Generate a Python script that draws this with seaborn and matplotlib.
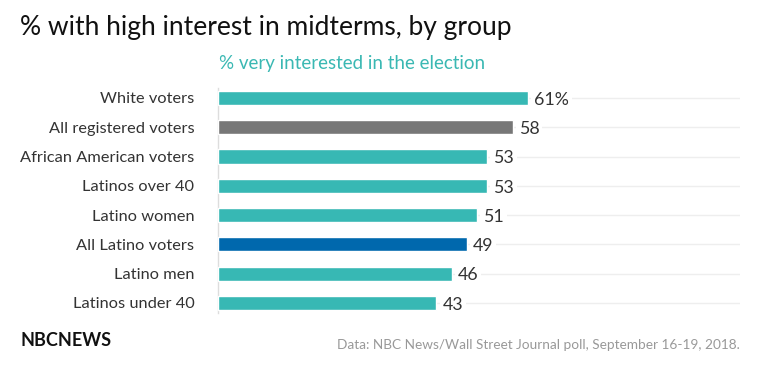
import pandas as pd
import seaborn as sns
import matplotlib.pyplot as plt

# Data
groups = ["White voters", "All registered voters", "African American voters",
          "Latinos over 40", "Latino women", "All Latino voters",
          "Latino men", "Latinos under 40"]
values = [61, 58, 53, 53, 51, 49, 46, 43]
value_labels = ["61%", "58", "53", "53", "51", "49", "46", "43"]
bar_colors = ["#37b8b4", "#777777", "#37b8b4", "#37b8b4",
              "#37b8b4", "#0068ad", "#37b8b4", "#37b8b4"]

df = pd.DataFrame({"group": groups, "value": values})

sns.set_style("white")
plt.rcParams["font.family"] = ["Lato", "DejaVu Sans"]

fig = plt.figure(figsize=(7.6, 3.71), dpi=100)
ax = fig.add_axes([0.2868, 0.144, 0.9737 - 0.2868, 0.7755 - 0.144])

sns.barplot(data=df, y="group", x="value", hue="group",
            palette=dict(zip(groups, bar_colors)), width=0.48,
            saturation=1, legend=False, ax=ax, zorder=3)

ax.set_xlim(0, 102.8)
ax.set_ylim(7.5, -0.5)
ax.set_xlabel("")
ax.set_ylabel("")
ax.set_xticks([])

# light horizontal guides at each row
ax.grid(axis="y", color="#eeeeee", linewidth=1, zorder=0)
ax.set_axisbelow(True)
ax.tick_params(axis="y", length=14, width=1, color="#eeeeee",
               labelsize=11.8, labelcolor="#333333", pad=3)

for s in ["top", "right", "bottom"]:
    ax.spines[s].set_visible(False)
ax.spines["left"].set_color("#dddddd")
ax.spines["left"].set_linewidth(1)
ax.spines["left"].set_bounds(-0.35, 7.35)

for i, (v, lab) in enumerate(zip(values, value_labels)):
    ax.text(v + 1.2, i + 0.06, lab, va="center", ha="left", fontsize=12.8,
            color="#333333", zorder=4,
            bbox=dict(facecolor="white", edgecolor="none", pad=2))

fig.text(20 / 760, 1 - 28 / 371, "% with high interest in midterms, by group",
         fontsize=19, color="#111111", va="center", ha="left")
fig.text(219 / 760, 1 - 63 / 371, "% very interested in the election",
         fontsize=13.5, color="#3ab8b3", va="center", ha="left")
fig.text(20 / 760, 1 - 340 / 371, "NBCNEWS", fontsize=13, fontweight="bold",
         color="#111111", va="center", ha="left")
fig.text(740 / 760, 1 - 345 / 371,
         "Data: NBC News/Wall Street Journal poll, September 16-19, 2018.",
         fontsize=9.8, color="#999999", va="center", ha="right")

fig.savefig("out.png", dpi=100)
